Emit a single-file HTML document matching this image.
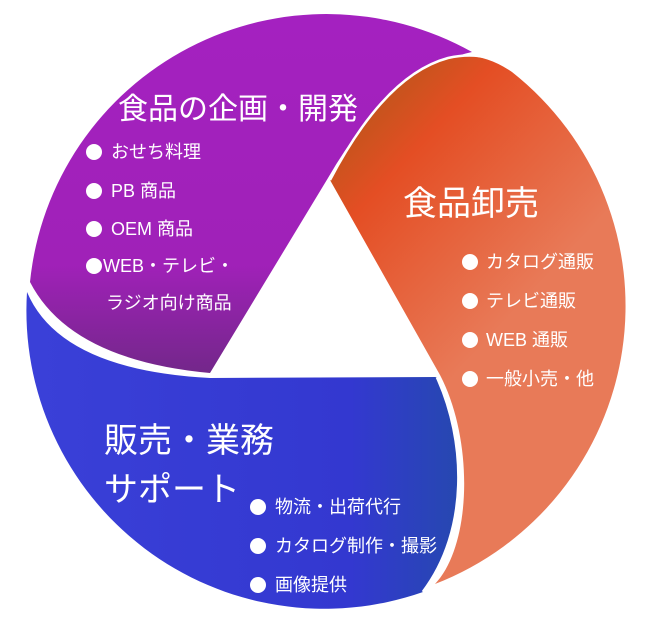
<!DOCTYPE html>
<html><head><meta charset="utf-8"><style>
html,body{margin:0;padding:0;background:#fff;}
svg{display:block;}
text{font-family:"Liberation Sans","Noto Sans CJK JP",sans-serif;fill:#fff;}
</style></head><body>
<svg width="654" height="634" viewBox="0 0 654 634" xmlns="http://www.w3.org/2000/svg">
<defs>
<linearGradient id="gp" x1="0" y1="0" x2="0" y2="1">
<stop offset="0" stop-color="#a421c0"/><stop offset="0.7" stop-color="#a021b8"/><stop offset="1" stop-color="#73278a"/>
</linearGradient>
<linearGradient id="go" x1="0.3" y1="0" x2="0.6" y2="0.5">
<stop offset="0" stop-color="#c4541c"/><stop offset="0.25" stop-color="#e44e24"/><stop offset="1" stop-color="#e87a58"/>
</linearGradient>
<linearGradient id="gb" x1="0" y1="0" x2="1" y2="0">
<stop offset="0" stop-color="#3a40d8"/><stop offset="0.75" stop-color="#3338d0"/><stop offset="1" stop-color="#2648b0"/>
</linearGradient>
</defs>
<!-- purple -->
<path d="M30,282 A298,298 0 0 1 472,52 Q390,70 328,178 L210,373 Q70,360 30,282 Z" fill="url(#gp)"/>
<!-- orange -->
<path d="M448,58 Q480,50 512,72 A298,298 0 0 1 435,584 C472,545 474,440 440,375 L330,180 Q385,75 448,58 Z" fill="url(#go)"/>
<path d="M330,180 Q385,75 448,58 Q470,53 490,58" fill="none" stroke="#fff" stroke-width="2.5"/>
<!-- blue -->
<path d="M27,292 Q60,370 210,378 L437,377 C466,440 470,530 423,592 A298,298 0 0 1 27,292 Z" fill="url(#gb)"/>
<path d="M437,377 C466,440 470,530 423,592" fill="none" stroke="#fff" stroke-width="3"/>

<text x="118" y="119" font-size="30">食品の企画・開発</text>
<g font-size="18">
<circle cx="94" cy="152" r="8" fill="#fff"/><text x="111" y="158">おせち料理</text>
<circle cx="94" cy="191" r="8" fill="#fff"/><text x="111" y="197">PB 商品</text>
<circle cx="94" cy="229" r="8" fill="#fff"/><text x="111" y="235">OEM 商品</text>
<circle cx="94" cy="266" r="8" fill="#fff"/><text x="103" y="272">WEB・テレビ・</text>
<text x="106" y="309">ラジオ向け商品</text>
</g>
<text x="403" y="215" font-size="34">食品卸売</text>
<g font-size="18">
<circle cx="470" cy="262" r="8" fill="#fff"/><text x="486" y="268">カタログ通販</text>
<circle cx="470" cy="301" r="8" fill="#fff"/><text x="486" y="307">テレビ通販</text>
<circle cx="470" cy="340" r="8" fill="#fff"/><text x="486" y="346">WEB 通販</text>
<circle cx="470" cy="379" r="8" fill="#fff"/><text x="486" y="385">一般小売・他</text>
</g>
<text x="104" y="452" font-size="34">販売・業務</text>
<text x="104" y="501" font-size="34">サポート</text>
<g font-size="18">
<circle cx="258" cy="507" r="8" fill="#fff"/><text x="275" y="513">物流・出荷代行</text>
<circle cx="258" cy="546" r="8" fill="#fff"/><text x="275" y="552">カタログ制作・撮影</text>
<circle cx="258" cy="585" r="8" fill="#fff"/><text x="275" y="591">画像提供</text>
</g>
</svg>
</body></html>
